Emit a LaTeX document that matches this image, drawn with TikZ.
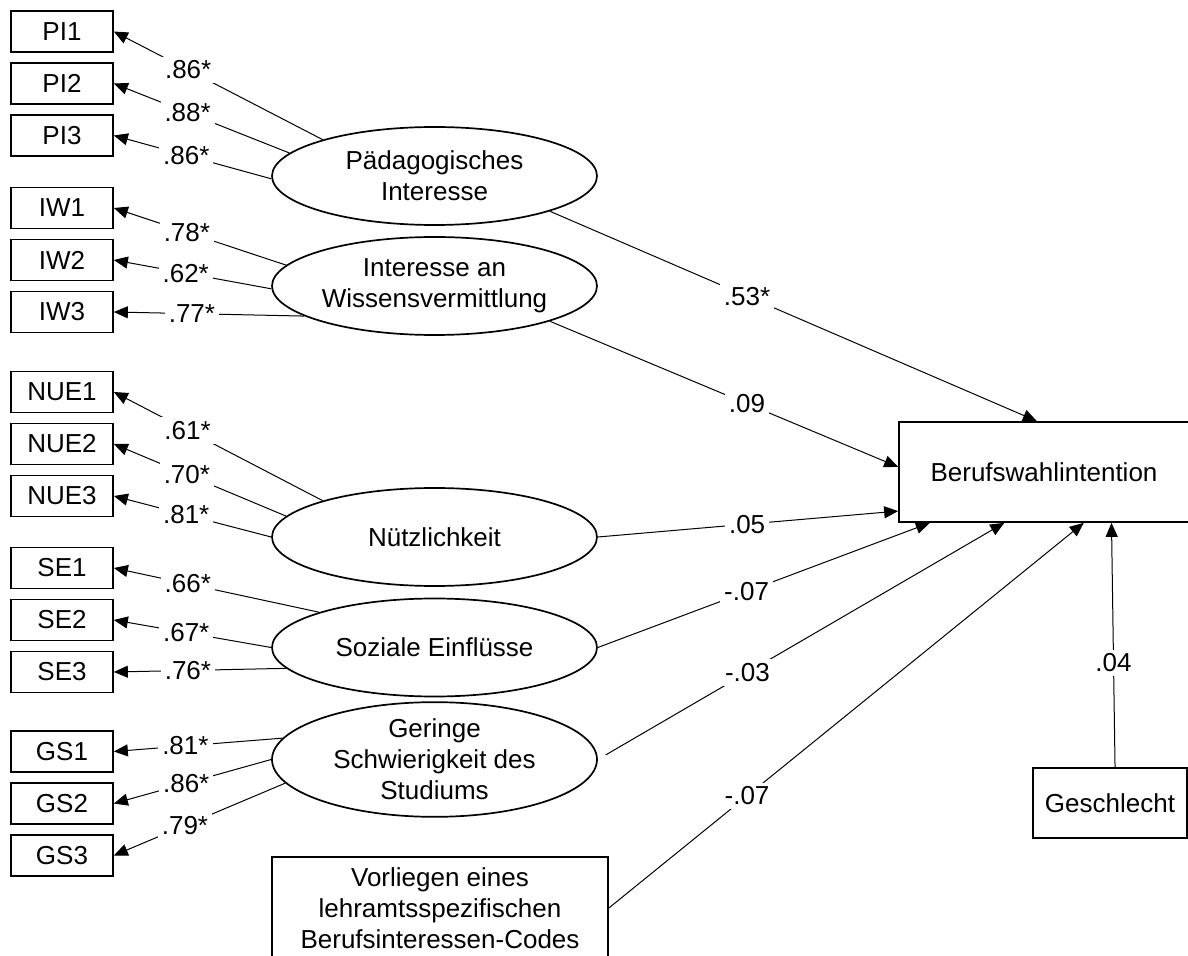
\documentclass[tikz,border=0pt]{standalone}
\usepackage{fontspec}
\setmainfont{Liberation Sans}
\usetikzlibrary{positioning, shapes.geometric, arrows.meta}

\tikzset{
  ind/.style={draw, line width=0.85pt, minimum width=51pt, minimum height=20.5pt, inner sep=0pt},
  lat/.style={draw, ellipse, line width=0.85pt, minimum width=162.5pt, minimum height=49pt, inner sep=0pt, align=center},
  obs/.style={draw, line width=0.85pt, inner sep=0pt, align=center},
  wert/.style={fill=white, inner sep=2pt},
}

\begin{document}
\begin{tikzpicture}[x=0.5pt, y=-0.5pt, node distance=26pt, font=\fontsize{13}{15.5}\selectfont,
    >={Triangle[length=7pt,width=6pt]}, every path/.append style={line width=0.5pt}]
    \useasboundingbox (0,0) rectangle (1188,956);

    \node[ind] (PI1) at (62,31.5) {PI1};
    \node[ind, below of=PI1] (PI2) {PI2};
    \node[ind, below of=PI2] (PI3) {PI3};
    \node[ind] (IW1) at (62,208) {IW1};
    \node[ind, below of=IW1] (IW2) {IW2};
    \node[ind, below of=IW2] (IW3) {IW3};
    \node[ind] (NUE1) at (62,392) {NUE1};
    \node[ind, below of=NUE1] (NUE2) {NUE2};
    \node[ind, below of=NUE2] (NUE3) {NUE3};
    \node[ind] (SE1) at (62,568) {SE1};
    \node[ind, below of=SE1] (SE2) {SE2};
    \node[ind, below of=SE2] (SE3) {SE3};
    \node[ind] (GS1) at (62,751.5) {GS1};
    \node[ind, below of=GS1] (GS2) {GS2};
    \node[ind, below of=GS2] (GS3) {GS3};

    \node[lat] (PI) at (434.5,176) {Pädagogisches\\Interesse};
    \node[lat] (IW) at (434.5,286) {Interesse an\\Wissensvermittlung};
    \node[lat] (NUE) at (434.5,537) {Nützlichkeit};
    \node[lat] (SE) at (434.5,647.5) {Soziale Einflüsse};
    \node[lat] (GS) at (434.5,759.5) {Geringe\\Schwierigkeit des\\Studiums};

    \node[obs, minimum width=145pt, minimum height=50pt] (BW) at (1044,472) {Berufswahlintention};
    \node[obs, minimum width=77pt, minimum height=35pt] (GE) at (1110,803) {Geschlecht};
    \node[obs, minimum width=168pt, minimum height=51pt] (VL) at (440,908) {Vorliegen eines\\lehramtsspezifischen\\Berufsinteressen-Codes};

    % Ladungen
    \draw[->] (PI.162) -- node[wert, pos=.644] {.86*} (PI1.east);
    \draw[->] (PI.171) -- node[wert, pos=.58] {.88*} (PI2.east);
    \draw[->] (PI.181) -- node[wert, pos=.54] {.86*} (PI3.east);
    \draw[->] (IW.172) -- node[wert, pos=.576] {.78*} (IW1.east);
    \draw[->] (IW.181) -- node[wert, pos=.544] {.62*} (IW2.east);
    \draw[->] (IW.193) -- node[wert, pos=.59] {.77*} (IW3.east);
    \draw[->] (NUE.162) -- node[wert, pos=.647] {.61*} (NUE1.east);
    \draw[->] (NUE.172) -- node[wert, pos=.576] {.70*} (NUE2.east);
    \draw[->] (NUE.180) -- node[wert, pos=.54] {.81*} (NUE3.east);
    \draw[->] (SE.163) -- node[wert, pos=.64] {.66*} (SE1.east);
    \draw[->] (SE.180) -- node[wert, pos=.54] {.67*} (SE2.east);
    \draw[->] (SE.188) -- node[wert, pos=.57] {.76*} (SE3.east);
    \draw[->] (GS.172) -- node[wert, pos=.576] {.81*} (GS1.east);
    \draw[->] (GS.180) -- node[wert, pos=.54] {.86*} (GS2.east);
    \draw[->] (GS.189) -- node[wert, pos=.585] {.79*} (GS3.east);

    % Pfade
    \draw[->] (PI.343) -- node[wert, pos=.405] {.53*} (BW.98);
    \draw[->] (IW.343) -- node[wert, pos=.566] {.09} (BW.178);
    \draw[->] (NUE.east) -- node[wert, pos=.497] {.05} (BW.195);
    \draw[->] (SE.east) -- node[wert, pos=.448] {-.07} (BW.204);
    \draw[->, shorten <=4.5pt] (GS.east) -- node[wert, pos=.368] {-.03} (BW.232);
    \draw[->] (VL.east) -- node[wert, pos=.291] {-.07} (BW.308);
    \draw[->] (GE.82) -- node[wert, pos=.427] {.04} (BW.323);
\end{tikzpicture}
\end{document}
